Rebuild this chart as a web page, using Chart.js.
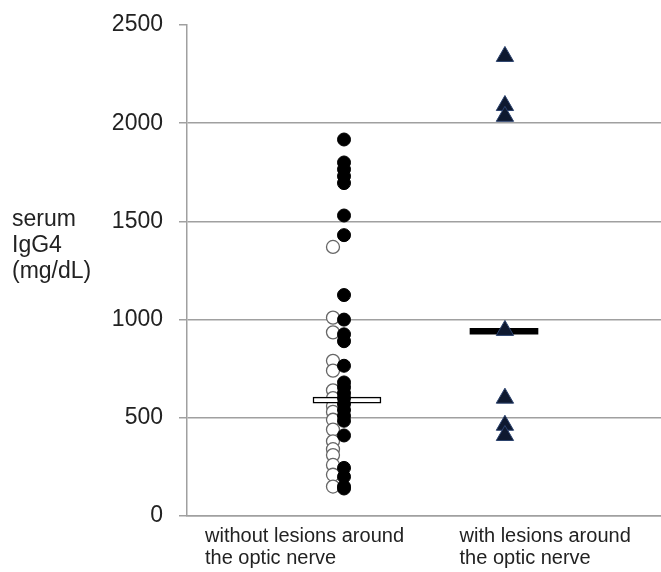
<!DOCTYPE html>
<html>
<head>
<meta charset="utf-8">
<script src="https://cdn.jsdelivr.net/npm/chart.js@4/dist/chart.umd.min.js"></script>
<style>
  html, body { margin: 0; padding: 0; background: #fff; }
  #wrap { position: relative; width: 661px; height: 572px; }
  #ytitle { position: absolute; left: 12px; top: 205px; font-family: "Liberation Sans", Arial, sans-serif; font-size: 23px; line-height: 26px; color: #222; }
</style>
</head>
<body>
<div id="wrap">
  <canvas id="c" width="661" height="572"></canvas>
  <div id="ytitle">serum<br>IgG4<br>(mg/dL)</div>
</div>
<script>
// ---- data ----
const categories = [["without lesions around", "the optic nerve"], ["with lesions around", "the optic nerve"]];
const yTicks = [0, 500, 1000, 1500, 2000, 2500];
const withoutFilled = [1917, 1800, 1765, 1730, 1695, 1530, 1430, 1125, 1000, 925, 890, 765, 680, 655, 625, 600, 570, 540, 510, 485, 410, 245, 200, 150, 140];
const withoutOpen = [1370, 1010, 935, 790, 740, 640, 600, 560, 530, 490, 440, 380, 340, 310, 260, 210, 150];
const withLesions = [2340, 2090, 2035, 945, 600, 462, 410];
const medianWithout = [575, 605];
const medianWith = [926, 956];

// ---- layout (horizontal positions on a 0..4 x scale) ----
const X_FILLED = 1.325, X_OPEN = 1.232, X_RECT = 1.35;
const X_TRI = 2.683, X_BAR2 = 2.675;
const LABEL_POS = [0.152, 2.30];

const pts = (x, arr) => arr.map(v => ({x: x, y: v}));

new Chart(document.getElementById('c'), {
  type: 'scatter',
  data: {
    datasets: [
      { label: 'filled', data: pts(X_FILLED, withoutFilled), order: 0,
        pointRadius: 6.5, pointBackgroundColor: '#000', pointBorderColor: '#000', pointBorderWidth: 1 },
      { type: 'bar', label: 'median1', data: [{x: X_RECT, y: medianWithout}], order: 1, grouped: false,
        barThickness: 68, backgroundColor: '#fff', borderColor: '#000', borderWidth: 1.5, borderSkipped: false },
      { label: 'open', data: pts(X_OPEN, withoutOpen), order: 2,
        pointRadius: 6.5, pointBackgroundColor: '#fff', pointBorderColor: '#666', pointBorderWidth: 1.3 },
      { label: 'with', data: pts(X_TRI, withLesions), order: 0,
        pointStyle: 'triangle', pointRadius: 10, pointBackgroundColor: '#0e1930', pointBorderColor: '#2b426e', pointBorderWidth: 1 },
      { type: 'bar', label: 'median2', data: [{x: X_BAR2, y: medianWith}], order: 1, grouped: false,
        barThickness: 68, backgroundColor: '#000', borderColor: '#000', borderWidth: 0 }
    ]
  },
  options: {
    responsive: false,
    animation: false,
    events: [],
    layout: { autoPadding: false, padding: { left: 0, right: 0, top: 25, bottom: 0 } },
    plugins: { legend: { display: false }, tooltip: { enabled: false } },
    scales: {
      x: {
        type: 'linear', min: 0, max: 4, offset: false,
        afterBuildTicks: s => { s.ticks = LABEL_POS.map(v => ({value: v})); },
        afterFit: s => { s.height = 56; s.paddingLeft = 0; s.paddingRight = 0; },
        grid: { display: false, drawTicks: false, offset: false },
        border: { display: true, color: '#a0a0a0', width: 1.5 },
        ticks: {
          align: 'start', padding: 9, maxRotation: 0, autoSkip: false,
          color: '#222', font: { family: '"Liberation Sans", Arial, sans-serif', size: 20, lineHeight: 1.1 },
          callback: (v, i) => categories[i]
        }
      },
      y: {
        min: 0, max: 2500,
        afterBuildTicks: s => { s.ticks = yTicks.map(v => ({value: v})); },
        afterFit: s => { s.width = 187; s.paddingTop = 0; s.paddingBottom = 0; },
        grid: {
          color: c => (c.tick && c.tick.value === 2500) ? 'rgba(0,0,0,0)' : '#a0a0a0',
          tickColor: '#a0a0a0', tickLength: 8, lineWidth: 1.5
        },
        border: { display: true, color: '#a0a0a0', width: 1.5 },
        ticks: {
          padding: 16, color: '#222',
          font: { family: '"Liberation Sans", Arial, sans-serif', size: 23 },
          callback: v => String(v)
        }
      }
    }
  }
});
</script>
</body>
</html>
